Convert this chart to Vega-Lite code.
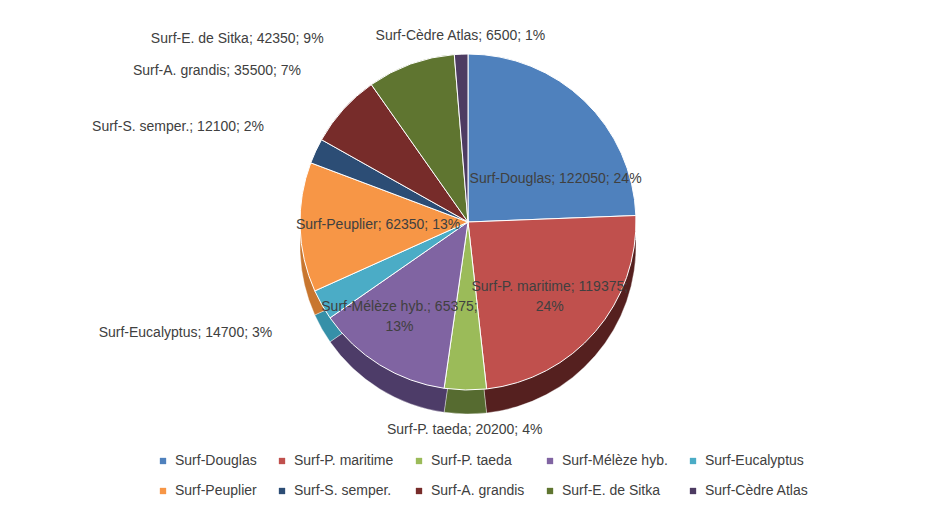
{
  "$schema": "https://vega.github.io/schema/vega-lite/v6.json",
  "width": 916,
  "height": 444,
  "autosize": {"type": "none"},
  "padding": {"left": 10, "top": 0, "right": 0, "bottom": 62},
  "background": "#ffffff",
  "data": {
    "values": [
      {"name": "Surf-Douglas", "value": 122050, "pct": 24},
      {"name": "Surf-P. maritime", "value": 119375, "pct": 24},
      {"name": "Surf-P. taeda", "value": 20200, "pct": 4},
      {"name": "Surf-Mélèze hyb.", "value": 65375, "pct": 13},
      {"name": "Surf-Eucalyptus", "value": 14700, "pct": 3},
      {"name": "Surf-Peuplier", "value": 62350, "pct": 13},
      {"name": "Surf-S. semper.", "value": 12100, "pct": 2},
      {"name": "Surf-A. grandis", "value": 35500, "pct": 7},
      {"name": "Surf-E. de Sitka", "value": 42350, "pct": 9},
      {"name": "Surf-Cèdre Atlas", "value": 6500, "pct": 1}
    ]
  },
  "transform": [
    {"window": [{"op": "row_number", "as": "i"}]},
    {"calculate": "datum.name + '; ' + datum.value + '; ' + datum.pct + '%'", "as": "label1"},
    {"calculate": "datum.name + '; ' + datum.value + ';\\n' + datum.pct + '%'", "as": "label2"}
  ],
  "encoding": {
    "theta": {"field": "value", "type": "quantitative", "stack": true},
    "order": {"field": "i", "type": "quantitative"}
  },
  "layer": [
    {
      "mark": {"type": "arc", "outerRadius": 168, "yOffset": 24, "stroke": "#ffffff", "strokeWidth": 0.6, "strokeOpacity": 0.6},
      "encoding": {
        "color": {
          "field": "name", "type": "nominal",
          "scale": {
            "domain": ["Surf-Douglas", "Surf-P. maritime", "Surf-P. taeda", "Surf-Mélèze hyb.", "Surf-Eucalyptus", "Surf-Peuplier", "Surf-S. semper.", "Surf-A. grandis", "Surf-E. de Sitka", "Surf-Cèdre Atlas"],
            "range": ["#2f4d71", "#55201f", "#566b30", "#4d3c68", "#3590a8", "#c8762f", "#1f3856", "#4a1b1a", "#3c4a1e", "#302540"]
          },
          "legend": null
        }
      }
    },
    {
      "mark": {"type": "arc", "outerRadius": 168, "stroke": "#ffffff", "strokeWidth": 1},
      "encoding": {
        "color": {
          "field": "name", "type": "nominal",
          "scale": {
            "domain": ["Surf-Douglas", "Surf-P. maritime", "Surf-P. taeda", "Surf-Mélèze hyb.", "Surf-Eucalyptus", "Surf-Peuplier", "Surf-S. semper.", "Surf-A. grandis", "Surf-E. de Sitka", "Surf-Cèdre Atlas"],
            "range": ["#4f81bd", "#c0504d", "#9bbb59", "#8064a2", "#4bacc6", "#f79646", "#2c4d75", "#772c2a", "#5f7530", "#4d3b62"]
          },
          "legend": {
            "title": null,
            "orient": "none",
            "legendX": 146,
            "legendY": 454,
            "direction": "horizontal",
            "columns": 5,
            "symbolType": "square",
            "symbolSize": 40,
            "symbolStrokeWidth": 0,
            "labelFontSize": 14,
            "labelColor": "#404040",
            "labelFont": "Liberation Sans",
            "labelLimit": 0,
            "labelOffset": 5,
            "columnPadding": 18,
            "rowPadding": 16
          }
        }
      }
    },
    {
      "mark": {"type": "text", "radius": 60, "dx": 46, "fontSize": 14, "fill": "#404040", "font": "Liberation Sans"},
      "encoding": {
        "text": {"condition": {"test": "datum.name == 'Surf-Douglas'", "field": "label1", "type": "nominal"}, "value": ""}
      }
    },
    {
      "mark": {"type": "text", "radius": 95, "dx": 5, "fontSize": 14, "fill": "#404040", "font": "Liberation Sans"},
      "encoding": {
        "text": {"condition": {"test": "datum.name == 'Surf-Peuplier'", "field": "label1", "type": "nominal"}, "value": ""}
      }
    },
    {
      "mark": {"type": "text", "radius": 100, "dx": 6, "fontSize": 14, "fill": "#404040", "font": "Liberation Sans", "lineBreak": "\n", "lineHeight": 20},
      "encoding": {
        "text": {"condition": {"test": "datum.name == 'Surf-P. maritime'", "field": "label2", "type": "nominal"}, "value": ""}
      }
    },
    {
      "mark": {"type": "text", "radius": 100, "dx": -16, "fontSize": 14, "fill": "#404040", "font": "Liberation Sans", "lineBreak": "\n", "lineHeight": 20},
      "encoding": {
        "text": {"condition": {"test": "datum.name == 'Surf-Mélèze hyb.'", "field": "label2", "type": "nominal"}, "value": ""}
      }
    },
    {
      "mark": {"type": "text", "radius": 225, "align": "right", "fontSize": 14, "fill": "#404040", "font": "Liberation Sans"},
      "encoding": {
        "text": {"condition": {"test": "indexof(['Surf-A. grandis', 'Surf-S. semper.', 'Surf-Eucalyptus'], datum.name) >= 0", "field": "label1", "type": "nominal"}, "value": ""}
      }
    },
    {
      "mark": {"type": "text", "radius": 195, "dx": -78, "align": "right", "fontSize": 14, "fill": "#404040", "font": "Liberation Sans"},
      "encoding": {
        "text": {"condition": {"test": "datum.name == 'Surf-E. de Sitka'", "field": "label1", "type": "nominal"}, "value": ""}
      }
    },
    {
      "mark": {"type": "text", "radius": 186, "fontSize": 14, "fill": "#404040", "font": "Liberation Sans"},
      "encoding": {
        "text": {"condition": {"test": "datum.name == 'Surf-Cèdre Atlas'", "field": "label1", "type": "nominal"}, "value": ""}
      }
    },
    {
      "mark": {"type": "text", "radius": 208, "fontSize": 14, "fill": "#404040", "font": "Liberation Sans"},
      "encoding": {
        "text": {"condition": {"test": "datum.name == 'Surf-P. taeda'", "field": "label1", "type": "nominal"}, "value": ""}
      }
    }
  ],
  "resolve": {"scale": {"color": "independent"}},
  "config": {"view": {"stroke": null}, "font": "Liberation Sans"}
}
